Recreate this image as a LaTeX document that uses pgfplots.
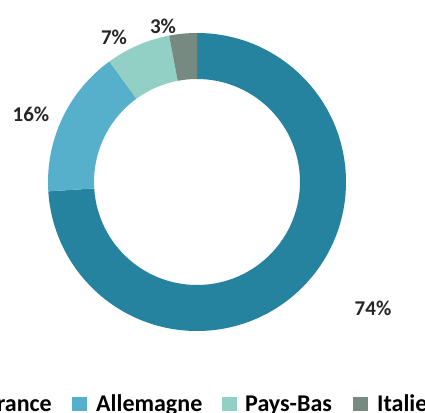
\documentclass[border=0pt]{standalone}
\usepackage{pgfplots}
\pgfplotsset{compat=1.18}
\usepackage{pgfplotstable}
\usepackage{fontspec}
\setmainfont{Carlito}

\definecolor{cFr}{RGB}{38,131,160}
\definecolor{cAl}{RGB}{86,176,204}
\definecolor{cPB}{RGB}{146,208,198}
\definecolor{cIt}{RGB}{118,138,130}

\pgfplotstableread{
name value
France 74
Allemagne 16
Pays-Bas 7
Italie 3
}\datatable
\pgfplotstablegetelem{0}{value}\of\datatable \edef\vA{\pgfplotsretval}
\pgfplotstablegetelem{1}{value}\of\datatable \edef\vB{\pgfplotsretval}
\pgfplotstablegetelem{2}{value}\of\datatable \edef\vC{\pgfplotsretval}
\pgfplotstablegetelem{3}{value}\of\datatable \edef\vD{\pgfplotsretval}
\pgfmathsetmacro\aO{90}
\pgfmathsetmacro\aA{\aO-3.6*\vA}
\pgfmathsetmacro\aB{\aA-3.6*\vB}
\pgfmathsetmacro\aC{\aB-3.6*\vC}
\pgfmathsetmacro\aD{\aC-3.6*\vD}

\begin{document}%
\begin{tikzpicture}
\path[use as bounding box] (0,0) rectangle (425pt,412pt);
\begin{scope}
\clip (0,0) rectangle (425pt,412pt);
\begin{axis}[
  at={(0,0)}, anchor=origin,
  x=1pt, y=1pt,
  xmin=0, xmax=425, ymin=0, ymax=412,
  hide axis, clip=false,
]
\newcommand\seg[3]{%
  \fill[#3, shift={(axis cs:197,230)}] (#1:149pt) arc[start angle=#1, end angle=#2, radius=149pt]
    -- (#2:103pt) arc[start angle=#2, end angle=#1, radius=103pt] -- cycle;}
\seg{\aO}{\aA}{cFr}
\seg{\aA}{\aB}{cAl}
\seg{\aB}{\aC}{cPB}
\seg{\aC}{\aD}{cIt}
\begin{scope}[every node/.style={font=\fontsize{21}{24}\selectfont\bfseries, text=black!85}]
\node at (axis cs:373,104) {\vA\%};
\node at (axis cs:31,298) {\vB\%};
\node at (axis cs:114,375) {\vC\%};
\node at (axis cs:163,386) {\vD\%};
\end{scope}
\begin{scope}[every node/.style={font=\fontsize{24}{26}\selectfont\bfseries, text=black, inner sep=0pt}]
\fill[cFr, overlay] (axis cs:-82,1) rectangle (axis cs:-67,15);
\node[overlay, anchor=base east] at (axis cs:52,1) {France};
\fill[cAl] (axis cs:72,1) rectangle (axis cs:87,15);
\node[anchor=base west] at (axis cs:96,1) {Allemagne};
\fill[cPB] (axis cs:222,1) rectangle (axis cs:237,15);
\node[anchor=base west] at (axis cs:245,1) {Pays-Bas};
\fill[cIt] (axis cs:353,1) rectangle (axis cs:368,15);
\node[overlay, anchor=base west] at (axis cs:377,1) {Italie};
\end{scope}
\end{axis}
\end{scope}
\end{tikzpicture}%
\end{document}
